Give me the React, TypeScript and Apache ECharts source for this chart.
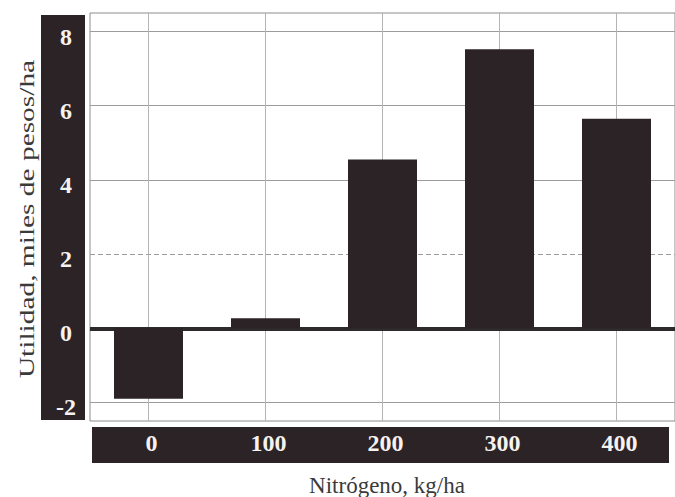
import { useEffect, useRef } from "react";
import * as echarts from "echarts";

const categories = ["0", "100", "200", "300", "400"];
const utilidad = [-1.9, 0.27, 4.55, 7.52, 5.65];
const yTicks = [-2, 0, 2, 4, 6, 8];
const solidGridValues = [-2, 4, 6, 8];
const dashedGridValues = [2];
const xTitle = "Nitrógeno, kg/ha";
const yTitle = "Utilidad, miles de pesos/ha";

const DARK = "#2b2326";
const SERIF = "Liberation Serif";

export default function App() {
  const ref = useRef<HTMLDivElement>(null);

  useEffect(() => {
    if (!ref.current) return;
    const chart = echarts.init(ref.current, null, { renderer: "svg" });

    const gridLines: any[] = [];
    solidGridValues.forEach((v) =>
      gridLines.push({ yAxis: v, lineStyle: { color: "#9c9c9c", width: 1, type: "solid" } })
    );
    dashedGridValues.forEach((v) =>
      gridLines.push({ yAxis: v, lineStyle: { color: "#9c9c9c", width: 1, type: [5, 3] } })
    );
    categories.forEach((_, i) =>
      gridLines.push({ xAxis: i, lineStyle: { color: "#b4b4b4", width: 1, type: "solid" } })
    );
    gridLines.push({ yAxis: 0, lineStyle: { color: "#2e2a2b", width: 4, type: "solid" } });

    chart.setOption({
      animation: false,
      backgroundColor: "#ffffff",
      grid: {
        left: 90,
        top: 13,
        width: 600,
        height: 408,
        show: true,
        borderColor: "#8c8c8c",
        borderWidth: 1,
        backgroundColor: "#ffffff",
      },
      xAxis: {
        type: "category",
        data: categories,
        axisLine: { show: false },
        axisTick: { show: false },
        splitLine: { show: false },
        axisLabel: {
          color: "#f6f2f0",
          fontFamily: SERIF,
          fontWeight: "bold",
          fontSize: 24,
          margin: 22,
          verticalAlign: "middle",
          padding: [0, 0, 0, 6],
        },
      },
      yAxis: {
        type: "value",
        min: -2.5,
        max: 8.5,
        axisLine: { show: false },
        axisTick: { show: false },
        splitLine: { show: false },
        axisLabel: {
          customValues: yTicks,
          color: "#f6f2f0",
          fontFamily: SERIF,
          fontWeight: "bold",
          fontSize: 24,
          margin: 24,
          align: "center",
          verticalAlign: "top",
          lineHeight: 10,
        },
      },
      graphic: [
        {
          type: "rect",
          z: -1,
          shape: { x: 41, y: 15, width: 44, height: 405 },
          style: { fill: DARK },
        },
        {
          type: "rect",
          z: -1,
          shape: { x: 92, y: 427, width: 577, height: 36 },
          style: { fill: DARK },
        },
        {
          type: "text",
          x: 27,
          y: 219,
          rotation: Math.PI / 2,
          scaleX: 1.4,
          style: {
            text: yTitle,
            fill: "#3a3a3a",
            fontFamily: SERIF,
            fontSize: 21,
            align: "center",
            verticalAlign: "middle",
          },
        },
        {
          type: "text",
          x: 387,
          y: 485,
          style: {
            text: xTitle,
            fill: "#3a3a3a",
            fontFamily: SERIF,
            fontSize: 23,
            align: "center",
            verticalAlign: "middle",
          },
        },
      ],
      series: [
        {
          type: "bar",
          data: utilidad,
          barWidth: 69,
          itemStyle: { color: DARK },
          z: 2,
          markLine: {
            z: 1,
            silent: true,
            symbol: ["none", "none"],
            label: { show: false },
            data: gridLines,
          },
        },
      ],
    });

    return () => chart.dispose();
  }, []);

  return (
    <div
      ref={ref}
      style={{ position: "fixed", left: 0, top: 0, width: 675, height: 497 }}
    />
  );
}
